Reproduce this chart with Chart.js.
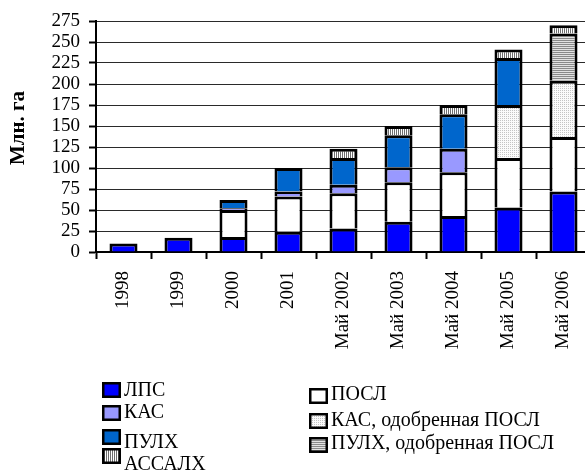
<!DOCTYPE html>
<html>
<head>
<meta charset="utf-8">
<script src="https://cdn.jsdelivr.net/npm/chart.js@4/dist/chart.umd.min.js"></script>
<style>
  html, body { margin: 0; padding: 0; background: #fff; overflow: hidden; }
  #wrap { width: 585px; height: 472px; overflow: hidden; }
  canvas { display: block; }
</style>
</head>
<body>
<div id="wrap"><canvas id="c" width="600" height="472"></canvas></div>
<script>
// Area (million ha) by year, stacked by category
const categories = ['1998', '1999', '2000', '2001', 'Май 2002', 'Май 2003', 'Май 2004', 'Май 2005', 'Май 2006'];
const lps          = [10, 17, 18, 24, 28, 36, 43, 53, 72];
const posl         = [null, null, 32, 42, 42, 47, 52, 59, 65];
const kas          = [null, null, 2, 6, 10, 18, 28, null, null];
const kasApproved  = [null, null, null, null, null, null, null, 63, 67];
const pulh         = [null, null, 10, 28, 32, 38, 41, 56, null];
const pulhApproved = [null, null, null, null, null, null, null, null, 56];
const assalh       = [null, null, null, null, 11, 11, 11, 10, 10];
const yTicks = [0, 25, 50, 75, 100, 125, 150, 175, 200, 225, 250, 275];

const FONT = "'Liberation Serif', 'Times New Roman', serif";

function makePattern(w, h, draw) {
  const c = document.createElement('canvas');
  c.width = w; c.height = h;
  const g = c.getContext('2d');
  draw(g);
  return g.createPattern(c, 'repeat');
}
const dotted = makePattern(2, 2, g => {
  g.fillStyle = '#fbfbfb'; g.fillRect(0, 0, 2, 2);
  g.fillStyle = '#c4c4c4'; g.fillRect(0, 0, 1, 1);
});
const hLines = makePattern(2, 2, g => {
  g.fillStyle = '#e2e2e2'; g.fillRect(0, 0, 2, 2);
  g.fillStyle = '#8a8a8a'; g.fillRect(0, 0, 2, 1);
});
const vLines = makePattern(2, 2, g => {
  g.fillStyle = '#ffffff'; g.fillRect(0, 0, 2, 2);
  g.fillStyle = '#6e6e6e'; g.fillRect(0, 0, 1, 2);
});

function ds(label, data, fill) {
  return {
    label, data, backgroundColor: fill,
    borderColor: '#000', borderWidth: 3,
    barPercentage: 0.51, categoryPercentage: 1.0
  };
}

const datasets = [
  ds('ЛПС', lps, '#0000ff'),
  ds('ПОСЛ', posl, '#ffffff'),
  ds('КАС', kas, '#9999ff'),
  ds('КАС, одобренная ПОСЛ', kasApproved, dotted),
  ds('ПУЛХ', pulh, '#0066cc'),
  ds('ПУЛХ, одобренная ПОСЛ', pulhApproved, hLines),
  ds('АССАЛХ', assalh, vLines)
];

// Two-column legend under the chart
const legendItems = [
  { label: 'ЛПС',    bx: 102, by: 382, ty: 391 },
  { label: 'КАС',    bx: 102, by: 405, ty: 413 },
  { label: 'ПУЛХ',   bx: 102, by: 429, ty: 443 },
  { label: 'АССАЛХ', bx: 102, by: 448, ty: 465 },
  { label: 'ПОСЛ',   bx: 309, by: 388, ty: 395 },
  { label: 'КАС, одобренная ПОСЛ',  bx: 309, by: 413, ty: 420.5 },
  { label: 'ПУЛХ, одобренная ПОСЛ', bx: 309, by: 437, ty: 444 }
];

const legendPlugin = {
  id: 'twoColLegend',
  afterDraw(chart) {
    const ctx = chart.ctx;
    ctx.save();
    ctx.font = '20px ' + FONT;
    ctx.textBaseline = 'middle';
    ctx.textAlign = 'left';
    legendItems.forEach(it => {
      const d = chart.data.datasets.find(x => x.label === it.label);
      const w = 19, h = 16;
      ctx.fillStyle = d.backgroundColor;
      ctx.fillRect(it.bx, it.by, w, h);
      ctx.lineWidth = 2.5;
      ctx.strokeStyle = '#000';
      ctx.strokeRect(it.bx + 1.25, it.by + 1.25, w - 2.5, h - 2.5);
      ctx.fillStyle = '#000';
      ctx.fillText(d.label, it.bx + 22, it.ty);
    });
    ctx.restore();
  }
};

const yTitlePlugin = {
  id: 'yTitle',
  afterDraw(chart) {
    const ctx = chart.ctx;
    ctx.save();
    ctx.translate(19, 128);
    ctx.rotate(-Math.PI / 2);
    ctx.font = 'bold 21px ' + FONT;
    ctx.fillStyle = '#000';
    ctx.textAlign = 'center';
    ctx.textBaseline = 'middle';
    ctx.fillText('Млн. га', 0, 0);
    ctx.restore();
  }
};

Chart.defaults.font.family = FONT;
Chart.defaults.color = '#000';

new Chart(document.getElementById('c'), {
  type: 'bar',
  data: { labels: categories, datasets },
  options: {
    responsive: false,
    animation: false,
    devicePixelRatio: 1,
    layout: { padding: { top: 21, right: 9, left: 0, bottom: 0 } },
    plugins: { legend: { display: false }, tooltip: { enabled: false } },
    scales: {
      x: {
        stacked: true,
        afterFit(s) { s.height = 220; },
        border: { color: '#000', width: 2 },
        grid: {
          offset: true, drawOnChartArea: false, drawTicks: true,
          tickLength: 7, tickWidth: 2, tickColor: '#000', color: '#000'
        },
        ticks: {
          minRotation: 90, maxRotation: 90, autoSkip: false,
          padding: 12, font: { size: 19 }
        }
      },
      y: {
        stacked: true,
        min: 0, max: 275,
        afterFit(s) { s.width = 96; },
        afterBuildTicks(s) { s.ticks = yTicks.map(v => ({ value: v })); },
        border: { color: '#000', width: 2 },
        grid: {
          color: '#2a2a2a', lineWidth: 1,
          tickLength: 7, tickWidth: 2, tickColor: '#000'
        },
        ticks: { autoSkip: false, padding: 9, font: { size: 19 } }
      }
    }
  },
  plugins: [legendPlugin, yTitlePlugin]
});
</script>
</body>
</html>
